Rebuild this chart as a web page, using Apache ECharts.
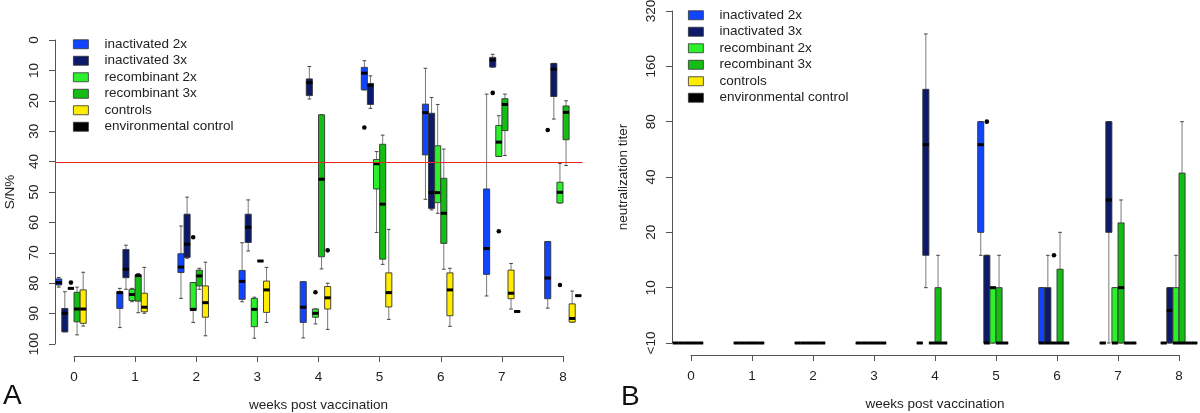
<!DOCTYPE html>
<html><head><meta charset="utf-8">
<script src="https://cdn.jsdelivr.net/npm/echarts@6/dist/echarts.min.js"></script>
<style>html,body{margin:0;padding:0;background:#fff}#c{width:1200px;height:413px}</style>
</head><body><div id="c"></div>
<script>
// ---------- data ----------
const WEEKS = [0, 1, 2, 3, 4, 5, 6, 7, 8];
const GROUPS = ['inactivated 2x', 'inactivated 3x', 'recombinant 2x', 'recombinant 3x', 'controls', 'environmental control'];
const COLORS = ['#1045ff', '#0b1a6b', '#2cf02c', '#14bd14', '#ffec00', '#000000'];
const A_TICKS = [0, 10, 20, 30, 40, 50, 60, 70, 80, 90, 100];
const B_TICK_LABELS = ['<10', '10', '20', '40', '80', '160', '320'];
const SN_CUTOFF = 40;

// Panel A (S/N%): per week [whisker, hinge, median, hinge, whisker]; a single number = all equal; null = not tested
const A_INACT2 = [[78.1, 78.6, 79.8, 80.6, 81.3], [81.7, 82.8, 83.1, 88.3, 94.6], [61.2, 70.3, 74.7, 76.5, 85.0], [66.7, 75.8, 79.4, 85.3, 86.1], [79.5, 79.5, 87.9, 92.9, 98.0], [6.8, 9.0, 10.9, 16.4, 16.4], [9.3, 21.1, 23.9, 37.8, 52.4], [17.8, 49.0, 68.6, 77.1, 84.2], [66.3, 66.3, 78.3, 85.1, 88.2]];
const A_INACT3 = [[82.8, 88.3, 89.9, 96.0, 96.0], [67.5, 68.9, 75.4, 78.2, 82.0], [51.7, 57.3, 67.2, 71.5, 71.8], [52.6, 57.3, 61.6, 66.6, 69.4], [8.7, 12.8, 14.0, 18.3, 19.4], [11.8, 14.3, 14.9, 21.2, 22.5], [18.9, 24.1, 50.2, 55.4, 55.9], [4.7, 5.7, 6.6, 8.9, 8.9], [7.7, 7.7, 9.6, 18.6, 26.0]];
const A_REC2 = [81.7, [81.7, 82.0, 83.7, 85.7, 86.1], [79.8, 79.8, 88.6, 88.9, 92.9], [84.6, 85.0, 88.6, 94.3, 98.1], [88.5, 88.5, 89.9, 91.2, 93.4], [36.7, 39.3, 40.7, 49.0, 63.3], [21.2, 34.8, 50.2, 53.5, 57.0], [24.9, 28.1, 33.6, 38.3, 38.3], [40.6, 46.8, 50.1, 53.6, 53.6]];
const A_REC3 = [[81.3, 83.0, 88.5, 92.7, 97.0], [76.8, 77.3, 77.5, 85.9, 89.7], [75.1, 75.7, 77.6, 80.9, 82.0], 72.7, [24.6, 24.6, 45.8, 71.3, 75.3], [31.3, 34.3, 54.0, 72.1, 73.8], [35.9, 45.5, 57.0, 66.9, 75.4], [17.8, 19.3, 21.2, 29.8, 38.0], [20.0, 21.7, 23.8, 32.8, 41.3]];
const A_CTRL = [[76.4, 82.2, 88.5, 93.2, 94.1], [74.8, 83.3, 87.9, 89.4, 89.9], [73.1, 80.9, 86.4, 91.2, 97.3], [74.8, 79.3, 82.2, 89.6, 92.9], [80.0, 81.1, 84.8, 88.5, 95.2], [62.3, 76.6, 83.1, 87.8, 91.9], [75.1, 76.6, 82.2, 90.7, 94.2], [73.5, 75.7, 83.3, 85.1, 88.5], [82.6, 86.8, 91.6, 92.8, 92.8]];
const A_ENV = [null, null, null, null, null, null, null, 89.3, 84.1];
// outliers: [week, value]
const A_OUT_INACT2 = [[5, 28.8], [8, 29.6]];
const A_OUT_INACT3 = [[7, 17.4]];
const A_OUT_REC2 = [[0, 79.8], [2, 64.9], [4, 83.0], [7, 62.9], [8, 80.6]];
const A_OUT_REC3 = [];
const A_OUT_CTRL = [[4, 69.2]];
const A_OUT_ENV = [];

// Panel B (neutralization titer, 5 = "<10")
const B_INACT2 = [5, 5, 5, 5, 5, [15, 20, 60, 80, 80], [5, 5, 5, 10, 10], 5, 5];
const B_INACT3 = [5, 5, 5, 5, [10, 15, 60, 120, 240], [5, 5, 5, 15, 15], [5, 5, 5, 10, 15], [5, 20, 30, 80, 80], [5, 5, 7.5, 10, 10]];
const B_REC2 = [5, 5, 5, 5, 5, [5, 5, 10, 10, 10], 5, [5, 5, 5, 10, 10], [5, 5, 5, 10, 15]];
const B_REC3 = [5, 5, 5, 5, [5, 5, 5, 10, 15], [5, 5, 5, 10, 15], [5, 5, 5, 12.6, 20], [5, 5, 10, 22.5, 30], [5, 5, 5, 42, 80]];
const B_CTRL = [5, 5, 5, 5, 5, 5, 5, 5, 5];
const B_ENV = [null, null, null, null, null, null, null, 5, 5];
const B_OUT_INACT2 = [];
const B_OUT_INACT3 = [[5, 80]];
const B_OUT_REC2 = [[6, 15]];
const B_OUT_REC3 = [];
const B_OUT_CTRL = [];
const B_OUT_ENV = [];

// ---------- build ----------
const FONT = 'Liberation Sans, Arial, sans-serif';
const SLOT = 0.1;
const slotOffset = gi => -0.25 + SLOT * gi;
const logT = v => Math.log2(v / 5);
const ident = v => v;

function makeSeries(name, gi, stats, outs, axisIdx, tf) {
  const data = [], kinds = [];
  WEEKS.forEach((w, i) => {
    let s = stats[i];
    if (s === null || s === undefined) return;
    if (typeof s === 'number') s = [s, s, s, s, s];
    data.push([w + slotOffset(gi)].concat(s.map(tf)));
    kinds.push('box');
  });
  outs.forEach(o => {
    const t = tf(o[1]);
    data.push([o[0] + slotOffset(gi), t, t, t, t, t]);
    kinds.push('out');
  });
  const color = COLORS[gi];
  return {
    type: 'custom', name: name, xAxisIndex: axisIdx, yAxisIndex: axisIdx,
    clip: false, itemStyle: { color: color },
    encode: { x: 0, y: [1, 2, 3, 4, 5] },
    data: data,
    renderItem: function (params, api) {
      const x = api.value(0);
      if (kinds[params.dataIndex] === 'out') {
        const p = api.coord([x, api.value(1)]);
        return { type: 'circle', shape: { cx: p[0], cy: p[1], r: 2.3 }, style: { fill: '#000' } };
      }
      const w = api.size([SLOT, 0])[0];
      const c = api.coord([x, api.value(3)]);
      const cx = c[0];
      const y1 = api.coord([x, api.value(1)])[1];
      const y2 = api.coord([x, api.value(2)])[1];
      const ym = c[1];
      const y4 = api.coord([x, api.value(4)])[1];
      const y5 = api.coord([x, api.value(5)])[1];
      const wl = { stroke: '#7a7a7a', lineWidth: 1 };
      const cap = w * 0.3;
      return {
        type: 'group', children: [
          { type: 'line', shape: { x1: cx, y1: y1, x2: cx, y2: y2 }, style: wl },
          { type: 'line', shape: { x1: cx, y1: y4, x2: cx, y2: y5 }, style: wl },
          { type: 'line', shape: { x1: cx - cap, y1: y1, x2: cx + cap, y2: y1 }, style: { stroke: '#444', lineWidth: 1 } },
          { type: 'line', shape: { x1: cx - cap, y1: y5, x2: cx + cap, y2: y5 }, style: { stroke: '#444', lineWidth: 1 } },
          { type: 'rect', shape: { x: cx - w / 2, y: Math.min(y2, y4), width: w, height: Math.abs(y4 - y2) },
            style: { fill: color, stroke: '#333', lineWidth: 0.9 } },
          { type: 'line', shape: { x1: cx - w / 2, y1: ym, x2: cx + w / 2, y2: ym }, style: { stroke: '#000', lineWidth: 3 } }
        ]
      };
    }
  };
}

const A_STATS = [A_INACT2, A_INACT3, A_REC2, A_REC3, A_CTRL, A_ENV];
const A_OUTS = [A_OUT_INACT2, A_OUT_INACT3, A_OUT_REC2, A_OUT_REC3, A_OUT_CTRL, A_OUT_ENV];
const B_STATS = [B_INACT2, B_INACT3, B_REC2, B_REC3, B_CTRL, B_ENV];
const B_OUTS = [B_OUT_INACT2, B_OUT_INACT3, B_OUT_REC2, B_OUT_REC3, B_OUT_CTRL, B_OUT_ENV];

const series = [];
GROUPS.forEach((g, gi) => series.push(makeSeries(g, gi, A_STATS[gi], A_OUTS[gi], 0, ident)));
GROUPS.forEach((g, gi) => series.push(makeSeries(g, gi, B_STATS[gi], B_OUTS[gi], 1, logT)));
// cut-off line across the whole plotting region of panel A
series.push({
  type: 'custom', name: 'cutoff', xAxisIndex: 0, yAxisIndex: 0, clip: false, z: 5,
  data: [[SN_CUTOFF]],
  renderItem: function (params, api) {
    const p1 = api.coord([WEEKS[0] - 0.31, api.value(0)]);
    const p2 = api.coord([WEEKS[WEEKS.length - 1] + 0.32, api.value(0)]);
    const y = Math.round(p1[1]) + 0.5;
    return { type: 'line', shape: { x1: p1[0], y1: y, x2: p2[0], y2: y }, style: { stroke: '#ee2a22', lineWidth: 1 } };
  }
});

const axisLine = { show: true, onZero: false, lineStyle: { color: '#555', width: 1 } };
const axisTick = { show: true, length: 6, lineStyle: { color: '#555' } };
const lbl = { color: '#222', fontSize: 13.5, fontFamily: FONT };

function xAxis(gridIndex) {
  return {
    type: 'value', gridIndex: gridIndex, position: 'bottom', min: WEEKS[0], max: WEEKS[WEEKS.length - 1], interval: 1, offset: 12,
    axisLine: axisLine, axisTick: axisTick, splitLine: { show: false },
    axisLabel: Object.assign({ margin: 14, showMinLabel: true, showMaxLabel: true }, lbl),
    name: 'weeks post vaccination', nameLocation: 'middle', nameGap: 42,
    nameTextStyle: lbl
  };
}

const legendData = GROUPS.map((g, gi) => ({ name: g, itemStyle: { color: COLORS[gi], borderColor: '#333', borderWidth: 0.8 } }));
function legend(left, top) {
  return {
    orient: 'vertical', left: left, top: top, padding: 0, itemGap: 0,
    itemWidth: 15, itemHeight: 9, icon: 'rect', selectedMode: false,
    data: legendData,
    textStyle: { color: '#222', fontSize: 13.5, fontFamily: FONT, lineHeight: 16.5, padding: [0, 0, 0, 11] }
  };
}

const option = {
  animation: false,
  textStyle: { fontFamily: FONT },
  title: [
    { text: 'A', left: 3, top: 382, padding: 0, textStyle: { fontSize: 28, fontWeight: 'normal', color: '#111', fontFamily: FONT, lineHeight: 28 } },
    { text: 'B', left: 621, top: 383, padding: 0, textStyle: { fontSize: 28, fontWeight: 'normal', color: '#111', fontFamily: FONT, lineHeight: 28 } }
  ],
  legend: [legend(73, 36), legend(688, 7)],
  grid: [
    { left: 74, top: 40, width: 489, height: 304, containLabel: false, outerBoundsMode: 'none' },
    { left: 691, top: 11, width: 488, height: 332, containLabel: false, outerBoundsMode: 'none' }
  ],
  xAxis: [xAxis(0), xAxis(1)],
  yAxis: [
    {
      type: 'value', gridIndex: 0, position: 'left', min: A_TICKS[0], max: A_TICKS[A_TICKS.length - 1], interval: 10, inverse: true, offset: 19,
      axisLine: axisLine, axisTick: axisTick, splitLine: { show: false },
      axisLabel: Object.assign({ rotate: 90, margin: 14, showMinLabel: true, showMaxLabel: true }, lbl),
      name: 'S/N%', nameLocation: 'middle', nameRotate: 90, nameGap: 38, nameTextStyle: lbl
    },
    {
      type: 'value', gridIndex: 1, position: 'left', min: 0, max: B_TICK_LABELS.length - 1, interval: 1, offset: 19,
      axisLine: axisLine, axisTick: axisTick, splitLine: { show: false },
      axisLabel: Object.assign({ rotate: 90, margin: 14, showMinLabel: true, showMaxLabel: true,
        formatter: v => B_TICK_LABELS[Math.round(v)] }, lbl),
      name: 'neutralization titer', nameLocation: 'middle', nameRotate: 90, nameGap: 42, nameTextStyle: lbl
    }
  ],
  series: series
};

const chart = echarts.init(document.getElementById('c'), null, { renderer: 'canvas' });
chart.setOption(option);
</script>
</body></html>
